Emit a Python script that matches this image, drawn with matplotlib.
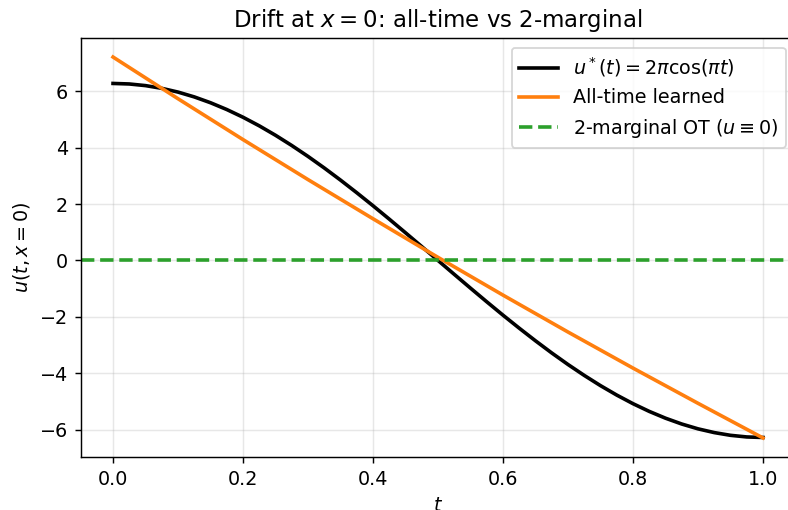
import matplotlib
matplotlib.use("Agg")
import matplotlib.pyplot as plt

# values
t_true = [0.000, 0.025, 0.050, 0.075, 0.100, 0.125, 0.150, 0.175, 0.200, 0.225,
          0.250, 0.275, 0.300, 0.325, 0.350, 0.375, 0.400, 0.425, 0.450, 0.475,
          0.500, 0.525, 0.550, 0.575, 0.600, 0.625, 0.650, 0.675, 0.700, 0.725,
          0.750, 0.775, 0.800, 0.825, 0.850, 0.875, 0.900, 0.925, 0.950, 0.975,
          1.000]
u_true = [6.283, 6.264, 6.206, 6.109, 5.976, 5.805, 5.598, 5.357, 5.083, 4.778,
          4.443, 4.080, 3.693, 3.283, 2.852, 2.404, 1.942, 1.467, 0.983, 0.493,
          0.000, -0.493, -0.983, -1.467, -1.942, -2.404, -2.852, -3.283, -3.693, -4.080,
          -4.443, -4.778, -5.083, -5.357, -5.598, -5.805, -5.976, -6.109, -6.206, -6.264,
          -6.283]

t_learned = [0.0, 0.1, 0.2, 0.3, 0.4, 0.5, 0.6, 0.7, 0.8, 0.9, 1.0]
u_learned = [7.22, 5.74, 4.29, 2.87, 1.48, 0.11, -1.23, -2.54, -3.82, -5.07, -6.30]

u_ot = 0.0

DPI = 130
fig = plt.figure(figsize=(788 / DPI, 510 / DPI), dpi=DPI)
ax = fig.add_axes([0.1022, 0.1039, 0.9073, 0.8216])

ax.plot(t_true, u_true, color="black", lw=2, label=r"$u^*(t) = 2\pi\cos(\pi t)$")
ax.plot(t_learned, u_learned, color="C1", lw=2, label="All-time learned")
ax.axhline(u_ot, color="C2", lw=2, ls="--", label=r"2-marginal OT ($u\equiv 0$)")

ax.set_xlabel(r"$t$", fontsize=10.6)
ax.set_ylabel(r"$u(t, x=0)$", fontsize=10.6)
ax.set_title(r"Drift at $x=0$: all-time vs 2-marginal", fontsize=12.7)
ax.tick_params(labelsize=10.6)
ax.grid(True, alpha=0.3)
ax.legend(loc="upper right", fontsize=10.6)

fig.savefig("out.png", dpi=DPI)
